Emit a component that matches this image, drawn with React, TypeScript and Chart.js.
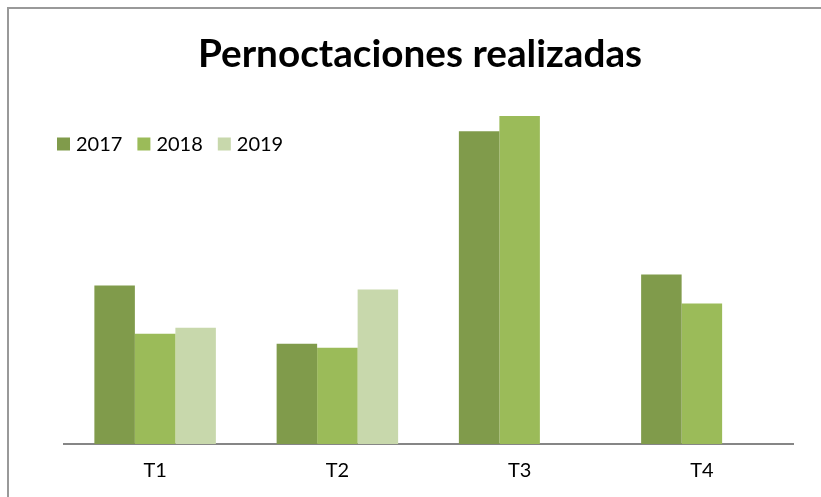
import React, { useEffect, useRef } from "react";
import { Chart, registerables } from "chart.js";

Chart.register(...registerables);

const categories = ["T1", "T2", "T3", "T4"];
const seriesNames = ["2017", "2018", "2019"];
const values2017 = [158, 100, 312, 169];
const values2018 = [110, 96, 327, 140];
const values2019: (number | null)[] = [116, 154, null, null];
const seriesColors = ["#809B4B", "#9BBB59", "#C8D8AC"];
const yMax = 350;

const FONT = "Lato, 'Open Sans', sans-serif";

const legendPlugin = {
  id: "insideLegend",
  afterDatasetsDraw(chart: any) {
    const ctx = chart.ctx;
    ctx.save();
    ctx.font = `20px ${FONT}`;
    ctx.textBaseline = "middle";
    ctx.textAlign = "left";
    let x = 57;
    const yc = 144;
    const box = 13;
    chart.data.datasets.forEach((ds: any) => {
      ctx.fillStyle = ds.backgroundColor;
      ctx.fillRect(x, yc - box / 2, box, box);
      ctx.fillStyle = "#000";
      ctx.fillText(ds.label, x + box + 6, yc + 1);
      x += box + 6 + ctx.measureText(ds.label).width + 15;
    });
    ctx.restore();
  },
};

export default function App() {
  const ref = useRef<HTMLCanvasElement>(null);
  useEffect(() => {
    if (!ref.current) return;
    const data = [values2017, values2018, values2019];
    const chart = new Chart(ref.current, {
      type: "bar",
      data: {
        labels: categories,
        datasets: seriesNames.map((n, i) => ({
          label: n,
          data: data[i],
          backgroundColor: seriesColors[i],
          borderWidth: 0,
          categoryPercentage: 3 / 4.5,
          barPercentage: 1,
        })),
      },
      options: {
        responsive: false,
        animation: false,
        devicePixelRatio: 1,
        layout: { padding: { left: 47, right: 28, top: 10, bottom: 0 } },
        plugins: {
          legend: { display: false },
          tooltip: { enabled: false },
          title: {
            display: true,
            text: "Pernoctaciones realizadas",
            color: "#000",
            font: { family: FONT, size: 38.7, weight: "bold", lineHeight: 1.2 },
            padding: { top: 21, bottom: 15.6 },
          },
        },
        scales: {
          x: {
            grid: { display: false, drawTicks: false, tickLength: 0 },
            border: { display: true, color: "#868686", width: 2 },
            ticks: {
              color: "#000",
              padding: 14.5,
              font: { family: FONT, size: 20, lineHeight: 1.2 },
              maxRotation: 0,
            },
          },
          y: {
            min: 0,
            max: yMax,
            grid: { display: false, drawTicks: false, tickLength: 0 },
            border: { display: false },
            ticks: { display: false },
            afterFit: (s: any) => {
              s.width = 17;
            },
          },
        },
      },
      plugins: [legendPlugin],
    });
    return () => chart.destroy();
  }, []);

  return (
    <div
      style={{
        position: "fixed",
        left: 0,
        top: 0,
        width: 821,
        height: 497,
        overflow: "hidden",
        background: "#fff",
      }}
    >
      <div
        style={{
          position: "absolute",
          left: 7,
          top: 7,
          width: 2,
          height: 490,
          background: "#999",
        }}
      />
      <div
        style={{
          position: "absolute",
          left: 7,
          top: 7,
          width: 814,
          height: 2,
          background: "#999",
        }}
      />
      <canvas
        ref={ref}
        width={821}
        height={497}
        style={{ position: "absolute", left: 0, top: 0, width: 821, height: 497 }}
      />
    </div>
  );
}
